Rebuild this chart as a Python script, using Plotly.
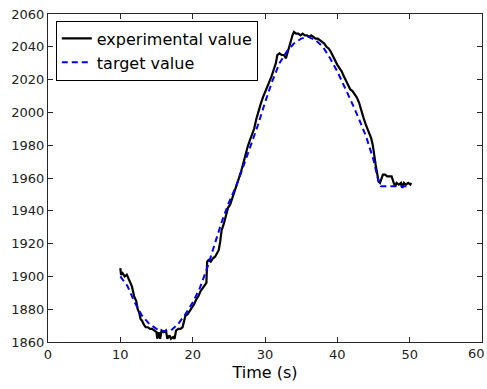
import plotly.graph_objects as go

# Experimental value (black solid)
exp_t = [10.0, 10.1, 10.3, 10.6, 10.9, 11.1, 11.3, 11.6, 11.9, 12.2, 12.4, 12.6, 12.8, 13.0, 13.2,
         13.5, 13.8, 14.1, 14.4, 14.7, 15.0, 15.1, 15.3, 15.5, 15.7, 16.0, 16.3, 16.5, 16.8, 17.0,
         17.3, 17.5, 17.7, 18.0, 18.3, 18.6, 18.8, 19.0, 19.3, 19.6, 19.9, 20.2, 20.5, 20.8, 21.1,
         21.4, 21.7, 21.9, 22.0, 22.2, 22.5, 22.8, 23.1, 23.4, 23.6, 23.8, 24.0, 24.3, 24.6, 24.9,
         25.2, 25.5, 25.8, 26.1, 26.4, 26.7, 27.0, 27.3, 27.6, 27.9, 28.2, 28.5, 28.8, 29.1, 29.4,
         29.7, 30.0, 30.3, 30.6, 30.9, 31.2, 31.5, 31.7, 32.0, 32.3, 32.6, 32.9, 33.2, 33.5, 33.8,
         34.0, 34.3, 34.6, 34.9, 35.2, 35.5, 35.8, 36.1, 36.4, 36.7, 37.0, 37.3, 37.6, 37.9, 38.2,
         38.5, 38.8, 39.1, 39.4, 39.7, 40.0, 40.3, 40.6, 40.9, 41.2, 41.5, 41.8, 42.1, 42.4, 42.7,
         43.0, 43.3, 43.6, 43.9, 44.2, 44.5, 44.7, 44.9, 45.1, 45.3, 45.5, 45.7, 45.9, 46.1, 46.3,
         46.6, 46.9, 47.2, 47.5, 47.8, 48.0, 48.2, 48.5, 48.8, 49.0, 49.2, 49.5, 49.8, 50.1, 50.2]
exp_v = [1905, 1901, 1902, 1900, 1901, 1899, 1896, 1894, 1888, 1885, 1880, 1878, 1874, 1873, 1871,
         1869, 1869, 1868, 1868, 1867, 1866, 1862, 1866, 1862, 1867, 1866, 1867, 1862, 1864, 1862,
         1863, 1862, 1867, 1868, 1868, 1869, 1872, 1876, 1877, 1879, 1881, 1883, 1886, 1888, 1891,
         1893, 1895, 1896, 1909, 1910, 1909, 1911, 1912, 1914, 1916, 1921, 1928, 1932, 1938, 1942,
         1944, 1948, 1951, 1956, 1960, 1964, 1969, 1975, 1979, 1983, 1987, 1990, 1996, 2001, 2005,
         2009, 2012, 2016, 2019, 2022, 2026, 2030, 2035, 2036, 2035, 2035, 2033, 2038, 2042, 2047,
         2049, 2048, 2048, 2047, 2048, 2047, 2047, 2046, 2047, 2046, 2045, 2045, 2044, 2043, 2042,
         2040, 2039, 2037, 2034, 2032, 2029, 2027, 2025, 2022, 2019, 2016, 2014, 2013, 2011, 2009,
         2006, 2001, 1997, 1993, 1990, 1986, 1984, 1980, 1973, 1968, 1963, 1958, 1957, 1959, 1962,
         1962, 1961, 1961, 1961, 1957, 1955, 1957, 1956, 1957, 1954, 1957, 1956, 1957, 1956, 1957]

# Target value (blue dashed)
tgt_t = [10, 11, 12, 13, 14, 15, 16, 17, 18, 19, 20, 21, 22, 23, 24, 25, 26, 27, 28, 29, 30,
         31, 32, 33, 34, 35, 36, 37, 38, 39, 40, 41, 42, 43, 44, 45, 45.8, 46, 47, 48, 49, 50]
tgt_v = [1900, 1894, 1884, 1876, 1871, 1868, 1866.5, 1867, 1871, 1877, 1884, 1893, 1905, 1919,
         1933, 1945, 1955, 1967, 1979, 1992, 2006, 2019, 2030, 2037, 2042, 2045, 2046, 2044, 2040,
         2033, 2025, 2016, 2006, 1996, 1985, 1971, 1956, 1955, 1955, 1955, 1955, 1955]

x_ticks = [0, 10, 20, 30, 40, 50, 60]
y_ticks = [1860, 1880, 1900, 1920, 1940, 1960, 1980, 2000, 2020, 2040, 2060]

FONT = "DejaVu Sans"
AX = "#262626"
TICKCOL = "#222"

fig = go.Figure()
fig.add_trace(go.Scatter(x=exp_t, y=exp_v, mode="lines", name="experimental value",
                         line=dict(color="black", width=2.2)))
fig.add_trace(go.Scatter(x=tgt_t, y=tgt_v, mode="lines", name="target value",
                         line=dict(color="#0000ff", width=2, dash="6px,4px")))

axis_common = dict(showline=True, mirror="allticks", linecolor=AX, linewidth=1,
                   ticks="inside", ticklen=5, tickcolor=AX, showgrid=False, zeroline=False,
                   tickfont=dict(family=FONT, size=13, color=TICKCOL))
fig.update_xaxes(range=[0, 60], tickvals=x_ticks, ticktext=[str(v) for v in x_ticks],
                 title=dict(text="Time (s)", font=dict(family=FONT, size=16, color="black"), standoff=6),
                 **axis_common)
fig.update_yaxes(range=[1860, 2060], tickvals=y_ticks, ticktext=[str(v) for v in y_ticks],
                 **axis_common)

# last x tick label sits at the page edge (plotly drops it), so draw it as text, kept inside the page
fig.add_annotation(x=x_ticks[-1], y=0, xref="x", yref="paper", text=str(x_ticks[-1]),
                   showarrow=False, xanchor="right", yanchor="top", yshift=-2, xshift=5,
                   font=dict(family=FONT, size=13, color=TICKCOL))

fig.update_layout(
    width=487, height=389,
    margin=dict(l=48, r=5, t=14, b=47, autoexpand=False),
    paper_bgcolor="white", plot_bgcolor="white",
    showlegend=True,
    legend=dict(x=0.018, y=0.98, xanchor="left", yanchor="top",
                bgcolor="white", bordercolor="black", borderwidth=1,
                font=dict(family=FONT, size=16, color="black"),
                tracegroupgap=0),
)

fig.write_html("out.html")
